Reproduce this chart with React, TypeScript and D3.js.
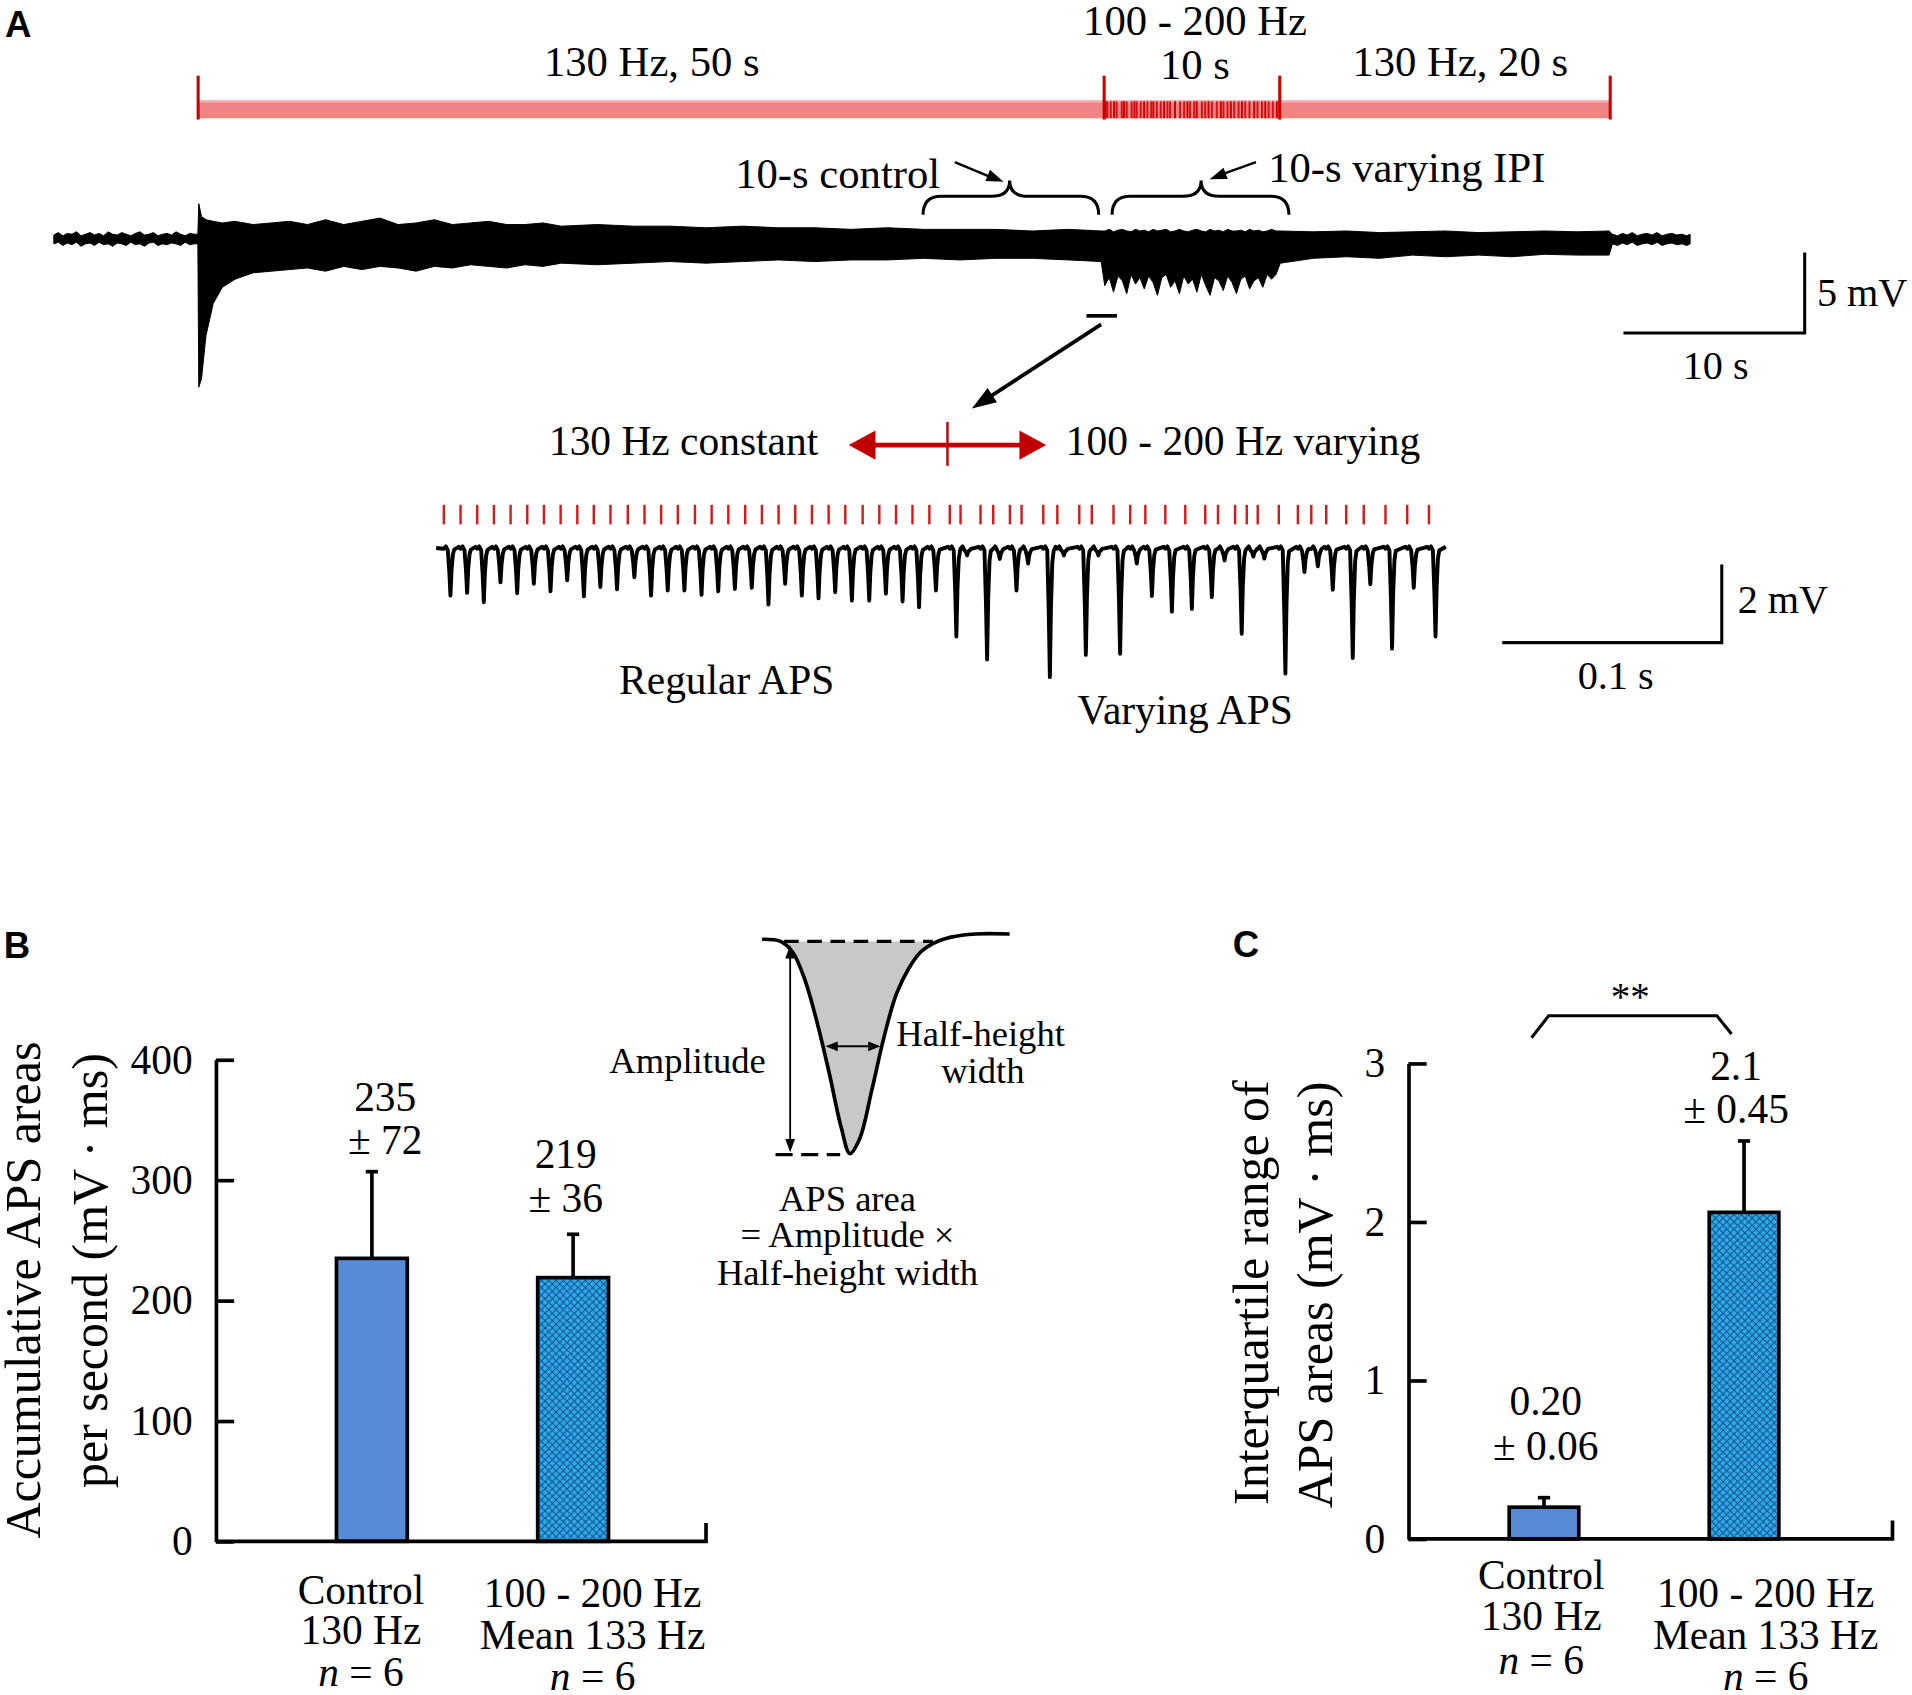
import React, { useEffect, useRef } from "react";
import * as d3 from "d3";

const SERIF = "'Liberation Serif', 'Times New Roman', serif";
const SANS = "'Liberation Sans', Arial, sans-serif";

// ---------- Panel A : long recording, envelope of the field trace (s, mV)
const envTime = [
  -8, -7.75, -7.5, -7.25, -7, -6.75, -6.5, -6.25, -6, -5.75, -5.5, -5.25, -5, -4.75, -4.5, -4.25,
  -4, -3.75, -3.5, -3.25, -3, -2.75, -2.5, -2.25, -2, -1.75, -1.5, -1.25, -1, -0.75, -0.5, -0.25, -0.05,
  0, 0.15, 0.4, 0.8, 1.3, 2, 3, 4, 5, 6, 7, 8, 9, 10, 11, 12, 13, 14, 15, 16, 17, 18, 19, 20,
  22, 24, 26, 28, 30, 32, 34, 36, 38, 40, 42, 44, 46, 48, 49.8,
  50, 50.25, 50.5, 50.75, 51, 51.25, 51.5, 51.75, 52, 52.25, 52.5, 52.75, 53, 53.25, 53.5, 53.75,
  54, 54.25, 54.5, 54.75, 55, 55.25, 55.5, 55.75, 56, 56.25, 56.5, 56.75, 57, 57.25, 57.5, 57.75,
  58, 58.25, 58.5, 58.75, 59, 59.25, 59.5, 59.75,
  60, 62, 64, 66, 68, 70, 72, 74, 76, 78, 79.9,
  80.1, 80.4, 80.7, 81, 81.3, 81.6, 81.9, 82.2, 82.5, 82.8, 83.1, 83.4, 83.7, 84, 84.3, 84.6, 84.8,
];
const envTop = [
  0.25, 0.4, 0.2, 0.35, 0.3, 0.45, 0.2, 0.3, 0.4, 0.25, 0.35, 0.2, 0.45, 0.3, 0.25, 0.4,
  0.3, 0.2, 0.35, 0.45, 0.25, 0.3, 0.4, 0.2, 0.3, 0.35, 0.25, 0.45, 0.3, 0.2, 0.35, 0.3, 0.3,
  2.2, 1.4, 1.2, 1.1, 1.0, 1.1, 0.9, 1.0, 1.1, 0.9, 1.2, 0.9, 1.1, 1.3, 0.9, 1.0, 1.2, 0.9, 1.0, 1.1, 0.9, 0.9, 1.0, 0.8,
  0.9, 0.8, 0.8, 0.7, 0.8, 0.7, 0.7, 0.6, 0.7, 0.6, 0.6, 0.6, 0.5, 0.6, 0.5,
  0.5, 0.6, 0.45, 0.55, 0.6, 0.5, 0.45, 0.6, 0.5, 0.55, 0.45, 0.6, 0.5, 0.55, 0.6, 0.45,
  0.5, 0.6, 0.5, 0.45, 0.55, 0.6, 0.5, 0.45, 0.6, 0.5, 0.55, 0.45, 0.6, 0.5, 0.5, 0.55,
  0.45, 0.6, 0.5, 0.55, 0.45, 0.5, 0.6, 0.5,
  0.5, 0.45, 0.5, 0.4, 0.45, 0.5, 0.4, 0.45, 0.5, 0.45, 0.5,
  0.3, 0.2, 0.35, 0.25, 0.4, 0.2, 0.3, 0.35, 0.25, 0.4, 0.2, 0.3, 0.35, 0.25, 0.3, 0.2, 0.3,
];
const envBottom = [
  -0.3, -0.2, -0.4, -0.25, -0.35, -0.2, -0.45, -0.3, -0.25, -0.4, -0.2, -0.35, -0.3, -0.45, -0.25, -0.3,
  -0.4, -0.2, -0.35, -0.3, -0.45, -0.25, -0.2, -0.4, -0.3, -0.35, -0.25, -0.3, -0.4, -0.2, -0.35, -0.3, -0.3,
  -9.2, -8.7, -6.0, -4.0, -3.0, -2.5, -2.1, -2.0, -1.9, -1.8, -2.0, -1.7, -1.9, -1.7, -1.8, -2.0, -1.7, -1.8, -1.6, -1.7, -1.8, -1.6, -1.7, -1.5,
  -1.6, -1.5, -1.4, -1.5, -1.4, -1.3, -1.4, -1.3, -1.3, -1.2, -1.3, -1.2, -1.2, -1.3, -1.4,
  -2.9, -2.4, -3.3, -2.3, -2.6, -3.4, -2.2, -2.8, -2.4, -3.1, -2.3, -2.7, -3.5, -2.4, -2.2, -3.0,
  -2.6, -3.4, -2.3, -2.8, -2.5, -3.3, -2.2, -2.9, -3.5, -2.4, -2.6, -3.2, -2.3, -2.7, -3.4, -2.5,
  -2.3, -3.1, -2.6, -2.4, -3.0, -2.2, -2.5, -2.2,
  -1.5, -1.2, -1.1, -1.2, -1.0, -1.1, -1.0, -1.1, -0.95, -1.0, -1.0,
  -0.3, -0.4, -0.25, -0.35, -0.2, -0.4, -0.3, -0.25, -0.35, -0.2, -0.4, -0.3, -0.25, -0.35, -0.3, -0.4, -0.3,
];

// stimulation protocol (s)
const stimEdges = [0, 50, 60, 80];
const stimLabels = ["130 Hz, 50 s", "10 s", "130 Hz, 20 s"];
const varyingStripes = [
  50.05, 50.15, 50.34, 50.53, 50.68, 50.97, 51.1, 51.25, 51.53, 51.69, 51.82, 52.05, 52.24, 52.43,
  52.64, 52.77, 52.96, 53.19, 53.38, 53.57, 53.72, 54.0, 54.29, 54.52, 54.71, 54.86, 55.09, 55.24,
  55.53, 55.72, 55.91, 56.1, 56.38, 56.61, 56.76, 56.99, 57.18, 57.37, 57.62, 57.81, 58.0, 58.24,
  58.51, 58.7, 58.95, 59.14, 59.33, 59.57, 59.8,
];

// ---------- Panel A : expanded trace, pulse times (ms) and APS depths (mV)
const pulseTimes = [
  0, 7.6, 15.2, 22.8, 30.4, 38.0, 45.6, 53.2, 60.8, 68.3, 75.9, 83.8, 91.4, 99.0, 106.6,
  114.4, 122.0, 129.6, 137.3, 144.9, 152.5, 160.1, 167.7, 175.3, 182.9, 190.8, 198.4, 206.0, 213.5, 221.2,
  230.5, 235.4, 244.5, 250.3, 257.9, 263.2, 273.1, 279.5, 289.5, 295.2, 305.1, 312.7, 319.6, 328.7,
  337.8, 346.9, 352.7, 360.5, 365.8, 370.8, 380.4, 389.1, 395.2, 402.0, 411.1, 419.1, 429.0, 438.9, 448.8,
];
const spikeDepths = [
  1.2, 1.13, 1.37, 0.86, 1.14, 0.9, 1.09, 0.81, 1.22, 0.98, 1.04, 0.73, 1.2, 1.07, 1.07,
  1.18, 1.09, 1.03, 1.0, 1.43, 0.9, 1.2, 1.27, 1.11, 1.33, 1.33, 1.15, 1.35, 1.5, 1.07,
  2.25, 0.17, 2.84, 0.26, 1.07, 0.38, 3.29, 0.17, 2.72, 0.17, 2.69, 0.38, 1.21, 1.61,
  1.54, 1.24, 0.3, 2.18, 0.2, 0.25, 3.2, 0.6, 0.45, 1.05, 2.8, 0.91, 2.56, 1.0, 2.25,
];
// APS glyph: [dt ms, fraction of depth, fixed offset mV]
const spikeShape = [
  [0, 0, 0], [0.9, 0, 0.06], [1.8, 0, -0.04], [2.5, 0.5, 0], [3.0, 1, 0],
  [3.5, 0.45, 0], [4.1, 0.1, -0.03], [4.7, 0.02, 0],
];

// ---------- Panel B
const groups = ["Control", "100 - 200 Hz"];
const groupText = [["Control", "130 Hz"], ["100 - 200 Hz", "Mean 133 Hz"]];
const apsMean = [235, 219];
const apsErr = [72, 36];
const apsText = [["235", "± 72"], ["219", "± 36"]];
const apsTicks = [0, 100, 200, 300, 400];
// schematic APS waveform (ms, normalised amplitude)
const apsWaveT = [0, 0.75, 1.25, 1.75, 2.25, 2.75, 3.25, 3.6, 4, 4.5, 5, 5.5, 6, 6.5, 7, 7.75, 8.75, 10.15];
const apsWaveV = [0.01, 0, -0.05, -0.18, -0.38, -0.62, -0.88, -1.0, -0.93, -0.7, -0.45, -0.25, -0.13, -0.05, -0.01, 0.02, 0.035, 0.035];

// ---------- Panel C
const iqrMean = [0.2, 2.06];
const iqrErr = [0.06, 0.45];
const iqrText = [["0.20", "± 0.06"], ["2.1", "± 0.45"]];
const iqrTicks = [0, 1, 2, 3];

const head = (x: number, y: number, ang: number, len = 16, hw = 6) => {
  const c = Math.cos(ang), s = Math.sin(ang);
  const bx = x - len * c, by = y - len * s;
  return `M${x},${y}L${bx - hw * s},${by + hw * c}L${bx + hw * s},${by - hw * c}Z`;
};

const YAxis = ({ scale, x, ticks }: { scale: d3.ScaleLinear<number, number>; x: number; ticks: number[] }) => {
  const ref = useRef<SVGGElement>(null);
  useEffect(() => {
    const g = d3.select(ref.current!);
    g.call(
      d3.axisLeft(scale).tickValues(ticks).tickSizeInner(-15).tickSizeOuter(0).tickPadding(19).tickFormat(d3.format("d"))
    );
    g.attr("font-size", 34).attr("font-family", SERIF);
    g.select(".domain").attr("stroke", "#000").attr("stroke-width", 3);
    g.selectAll(".tick line").attr("stroke", "#000").attr("stroke-width", 3);
    g.selectAll(".tick text").attr("fill", "#000");
  }, [scale, ticks, x]);
  return <g ref={ref} transform={`translate(${x},0)`} />;
};

const NLabel = ({ x, y }: { x: number; y: number }) => (
  <text x={x} y={y} textAnchor="middle">
    <tspan fontStyle="italic">n</tspan> = 6
  </text>
);

const App = () => {
  // ---- A: long trace
  const xA = d3.scaleLinear().domain(stimEdges).range([163, 906, 1050, 1321]);
  const yA = d3.scaleLinear().domain([0, 5]).range([196, 130]);
  const envData = envTime.map((t, i) => ({ t, top: envTop[i], bot: envBottom[i] }));
  const envPath =
    d3
      .area<{ t: number; top: number; bot: number }>()
      .x((d) => xA(d.t))
      .y0((d) => yA(d.bot))
      .y1((d) => yA(d.top))(envData) || "";

  // ---- A: expanded trace
  const xZ = d3.scaleLinear().domain([0, 100]).range([364, 544]);
  const yZ = d3.scaleLinear().domain([0, 2]).range([450, 386]);
  const zoomPts: [number, number][] = [[-3.5, 0.02]];
  pulseTimes.forEach((t, i) => {
    const next = i < pulseTimes.length - 1 ? pulseTimes[i + 1] : t + 8.5;
    spikeShape.forEach(([dt, f, c]) => {
      if (t + dt < next - 0.15) zoomPts.push([t + dt, c - f * spikeDepths[i]]);
    });
    if (next - t > 6.2) zoomPts.push([next - 0.8, 0.05]);
  });
  const zoomPath = d3.line<[number, number]>().x((d) => xZ(d[0])).y((d) => yZ(d[1]))(zoomPts) || "";

  // ---- B
  const yB = d3.scaleLinear().domain([0, 400]).range([1264, 869]);
  const xB = d3.scaleBand<string>().domain(groups).range([177, 579]).paddingInner(0.648).paddingOuter(0.542).align(0.553);
  const xI = d3.scaleLinear().domain([0, 10]).range([625, 825]);
  const yI = d3.scaleLinear().domain([0, -1]).range([772, 946]);
  const wave = apsWaveT.map((t, i) => ({ t, v: apsWaveV[i] }));
  const wavePath = d3.line<{ t: number; v: number }>().x((d) => xI(d.t)).y((d) => yI(d.v)).curve(d3.curveCatmullRom)(wave) || "";
  const fillPath =
    d3
      .area<{ t: number; v: number }>()
      .x((d) => xI(d.t))
      .y0(yI(0))
      .y1((d) => yI(Math.min(d.v, 0)))
      .curve(d3.curveCatmullRom)(wave.filter((d) => d.t >= 0.75 && d.t <= 7)) || "";

  // ---- C
  const yC = d3.scaleLinear().domain([0, 3]).range([1262, 872]);
  const xC = d3.scaleBand<string>().domain(groups).range([1155, 1552]).paddingInner(0.652).paddingOuter(0.536).align(0.47);

  const bigArrowAng = Math.atan2(335 - 266, 797 - 903);

  return (
    <svg
      width={1912}
      height={1695}
      viewBox="0 0 1568 1390"
      style={{ position: "absolute", left: 0, top: 0, background: "#fff" }}
      fontFamily={SERIF}
    >
      <defs>
        <pattern id="hatch" width={6} height={6} patternUnits="userSpaceOnUse">
          <rect width={6} height={6} fill="#2ea9e6" />
          <path d="M0,0L6,6M6,0L0,6" stroke="#0d4f8c" strokeWidth={0.8} />
        </pattern>
      </defs>

      {/* ================= A ================= */}
      <text x={4} y={30} fontFamily={SANS} fontWeight="bold" fontSize={30}>A</text>

      {/* stimulation bar */}
      <rect x={xA(0) - 1} y={82} width={xA(80) - xA(0) + 1} height={15} fill="#ee8484" />
      <rect x={xA(0) - 1} y={82} width={xA(80) - xA(0) + 1} height={2} fill="#f6b4b4" />
      {varyingStripes.map((t, i) => (
        <line key={i} x1={xA(t)} x2={xA(t)} y1={83} y2={97} stroke="#d00000" strokeWidth={1.6} opacity={i % 3 === 0 ? 1 : 0.85} />
      ))}
      {stimEdges.map((t) => (
        <line key={t} x1={xA(t) - 0.5} x2={xA(t) - 0.5} y1={62} y2={98} stroke="#c80000" strokeWidth={2.5} />
      ))}
      <g fontSize={35} textAnchor="middle">
        <text x={(xA(0) + xA(50)) / 2} y={62}>{stimLabels[0]}</text>
        <text x={(xA(50) + xA(60)) / 2 + 2} y={29}>100 - 200 Hz</text>
        <text x={(xA(50) + xA(60)) / 2 + 2} y={65}>{stimLabels[1]}</text>
        <text x={(xA(60) + xA(80)) / 2 + 12} y={62}>{stimLabels[2]}</text>
      </g>

      {/* braces and annotation */}
      <g fill="none" stroke="#000" strokeWidth={2.5}>
        <path d="M757,176Q757,161 772,161L813,161Q828,161 828,148Q828,161 843,161L886,161Q901,161 901,176" />
        <path d="M912,176Q912,161 927,161L970,161Q985,161 985,148Q985,161 1000,161L1042,161Q1057,161 1057,176" />
        <line x1={783} y1={133} x2={812} y2={145} strokeWidth={2} />
        <line x1={1030} y1={133} x2={1002} y2={143} strokeWidth={2} />
      </g>
      <path d={head(823, 149, Math.atan2(16, 40), 14, 5)} fill="#000" />
      <path d={head(992, 147, Math.atan2(14, -38), 14, 5)} fill="#000" />
      <text x={771} y={154} fontSize={35} textAnchor="end">10-s control</text>
      <text x={1040} y={149} fontSize={35}>10-s varying IPI</text>

      {/* trace */}
      <path d={envPath} fill="#000" stroke="#000" strokeWidth={0.8} strokeLinejoin="round" />

      {/* scale bar A */}
      <path
        d={`M${1480 - (xA(10) - xA(0))},${yA(0) + 77}H1480V${yA(5) + 77}`}
        fill="none"
        stroke="#000"
        strokeWidth={2.5}
      />
      <text x={1490} y={251} fontSize={33}>5 mV</text>
      <text x={1407} y={311} fontSize={33} textAnchor="middle">10 s</text>

      {/* zoom marker and arrow */}
      <line x1={891} x2={916} y1={259} y2={259} stroke="#000" strokeWidth={3} />
      <line x1={903} y1={266} x2={797 - 16 * Math.cos(bigArrowAng)} y2={335 - 16 * Math.sin(bigArrowAng)} stroke="#000" strokeWidth={3} />
      <path d={head(797, 335, bigArrowAng, 20, 7)} fill="#000" />

      {/* red double arrow */}
      <line x1={712} x2={842} y1={365} y2={365} stroke="#c00000" strokeWidth={4} />
      <path d={head(696, 365, Math.PI, 22, 12)} fill="#c00000" />
      <path d={head(858, 365, 0, 22, 12)} fill="#c00000" />
      <line x1={777} x2={777} y1={346} y2={382} stroke="#c00000" strokeWidth={2} />
      <text x={671} y={373} fontSize={34} textAnchor="end">130 Hz constant</text>
      <text x={874} y={373} fontSize={34}>100 - 200 Hz varying</text>

      {/* pulse ticks and expanded trace */}
      {pulseTimes.map((t, i) => (
        <line key={i} x1={xZ(t)} x2={xZ(t)} y1={414} y2={430} stroke="#d41b1b" strokeWidth={2} />
      ))}
      <path d={zoomPath} fill="none" stroke="#000" strokeWidth={3.2} strokeLinejoin="round" />
      <path
        d={`M${1412 - (xZ(100) - xZ(0))},${yZ(0) + 77}H1412V${yZ(2) + 77}`}
        fill="none"
        stroke="#000"
        strokeWidth={2.5}
      />
      <text x={1425} y={503} fontSize={33}>2 mV</text>
      <text x={1325} y={565} fontSize={33} textAnchor="middle">0.1 s</text>
      <text x={596} y={569} fontSize={34} textAnchor="middle">Regular APS</text>
      <text x={972} y={594} fontSize={34} textAnchor="middle">Varying APS</text>

      {/* ================= B ================= */}
      <text x={3} y={786} fontFamily={SANS} fontWeight="bold" fontSize={30}>B</text>
      <text transform="translate(33,1058) rotate(-90)" fontSize={41} textAnchor="middle">Accumulative APS areas</text>
      <text transform="translate(88,1042) rotate(-90)" fontSize={41} textAnchor="middle">per second (mV · ms)</text>
      {groups.map((g, i) => {
        const x0 = xB(g)!;
        const cx = x0 + xB.bandwidth() / 2;
        return (
          <g key={g}>
            <line x1={cx} x2={cx} y1={yB(apsMean[i])} y2={yB(apsMean[i] + apsErr[i])} stroke="#000" strokeWidth={3} />
            <line x1={cx - 5} x2={cx + 5} y1={yB(apsMean[i] + apsErr[i])} y2={yB(apsMean[i] + apsErr[i])} stroke="#000" strokeWidth={3} />
            <rect
              x={x0}
              y={yB(apsMean[i])}
              width={xB.bandwidth()}
              height={yB(0) - yB(apsMean[i])}
              fill={i === 0 ? "#578bd6" : "url(#hatch)"}
              stroke="#000"
              strokeWidth={3}
            />
          </g>
        );
      })}
      <g fontSize={34} textAnchor="middle">
        <text x={xB(groups[0])! + 40} y={911}>{apsText[0][0]}</text>
        <text x={xB(groups[0])! + 40} y={946}>{apsText[0][1]}</text>
        <text x={xB(groups[1])! + 23} y={958}>{apsText[1][0]}</text>
        <text x={xB(groups[1])! + 23} y={994}>{apsText[1][1]}</text>
      </g>
      <path d={`M${177},${yB(0)}H579V${yB(0) - 15}`} fill="none" stroke="#000" strokeWidth={3} />
      <YAxis scale={yB} x={177} ticks={apsTicks} />
      <g fontSize={34}>
        <text x={296} y={1315} textAnchor="middle">{groupText[0][0]}</text>
        <text x={296} y={1348} textAnchor="middle">{groupText[0][1]}</text>
        <NLabel x={296} y={1383} />
        <text x={486} y={1318} textAnchor="middle">{groupText[1][0]}</text>
        <text x={486} y={1352} textAnchor="middle">{groupText[1][1]}</text>
        <NLabel x={486} y={1386} />
      </g>

      {/* APS schematic */}
      <path d={fillPath} fill="#c8c8c8" />
      <line x1={xI(0.9)} x2={xI(7)} y1={yI(0)} y2={yI(0)} stroke="#000" strokeWidth={2.5} strokeDasharray="12 7" />
      <line x1={xI(0.55)} x2={xI(3.2)} y1={yI(-1.005)} y2={yI(-1.005)} stroke="#000" strokeWidth={2.5} strokeDasharray="14 7" />
      <path d={wavePath} fill="none" stroke="#000" strokeWidth={3} />
      <line x1={648} x2={648} y1={784} y2={936} stroke="#000" strokeWidth={1.5} />
      <path d={head(648, 775, -Math.PI / 2, 11, 4)} fill="#000" />
      <path d={head(648, 945, Math.PI / 2, 11, 4)} fill="#000" />
      <line x1={686} x2={713} y1={858} y2={858} stroke="#000" strokeWidth={1.5} />
      <path d={head(677, 858, Math.PI, 10, 4)} fill="#000" />
      <path d={head(722, 858, 0, 10, 4)} fill="#000" />
      <g fontSize={30}>
        <text x={628} y={880} textAnchor="end">Amplitude</text>
        <text x={735} y={858}>Half-height</text>
        <text x={806} y={888} textAnchor="middle">width</text>
        <text x={695} y={993} textAnchor="middle">APS area</text>
        <text x={695} y={1023} textAnchor="middle">= Amplitude ×</text>
        <text x={695} y={1054} textAnchor="middle">Half-height width</text>
      </g>

      {/* ================= C ================= */}
      <text x={1011} y={785} fontFamily={SANS} fontWeight="bold" fontSize={30}>C</text>
      <text transform="translate(1040,1060) rotate(-90)" fontSize={41} textAnchor="middle">Interquartile range of</text>
      <text transform="translate(1092,1062) rotate(-90)" fontSize={41} textAnchor="middle">APS areas (mV · ms)</text>
      {groups.map((g, i) => {
        const x0 = xC(g)!;
        const cx = x0 + xC.bandwidth() / 2;
        return (
          <g key={g}>
            <line x1={cx} x2={cx} y1={yC(iqrMean[i])} y2={yC(iqrMean[i] + iqrErr[i])} stroke="#000" strokeWidth={3} />
            <line x1={cx - 5} x2={cx + 5} y1={yC(iqrMean[i] + iqrErr[i])} y2={yC(iqrMean[i] + iqrErr[i])} stroke="#000" strokeWidth={3} />
            <rect
              x={x0}
              y={yC(iqrMean[i])}
              width={xC.bandwidth()}
              height={yC(0) - yC(iqrMean[i])}
              fill={i === 0 ? "#578bd6" : "url(#hatch)"}
              stroke="#000"
              strokeWidth={3}
            />
          </g>
        );
      })}
      <g fontSize={34} textAnchor="middle">
        <text x={xC(groups[0])! + 30} y={1160}>{iqrText[0][0]}</text>
        <text x={xC(groups[0])! + 30} y={1197}>{iqrText[0][1]}</text>
        <text x={xC(groups[1])! + 22} y={886}>{iqrText[1][0]}</text>
        <text x={xC(groups[1])! + 22} y={921}>{iqrText[1][1]}</text>
      </g>
      <path d="M1256,851L1270,833L1408,833L1420,848" fill="none" stroke="#000" strokeWidth={2.5} />
      <text x={1337} y={828} fontSize={32} textAnchor="middle">**</text>
      <path d={`M1155,${yC(0)}H1552V${yC(0) - 15}`} fill="none" stroke="#000" strokeWidth={3} />
      <YAxis scale={yC} x={1155} ticks={iqrTicks} />
      <g fontSize={34}>
        <text x={1264} y={1303} textAnchor="middle">{groupText[0][0]}</text>
        <text x={1264} y={1337} textAnchor="middle">{groupText[0][1]}</text>
        <NLabel x={1264} y={1373} />
        <text x={1448} y={1318} textAnchor="middle">{groupText[1][0]}</text>
        <text x={1448} y={1352} textAnchor="middle">{groupText[1][1]}</text>
        <NLabel x={1448} y={1386} />
      </g>
    </svg>
  );
};

export default App;
